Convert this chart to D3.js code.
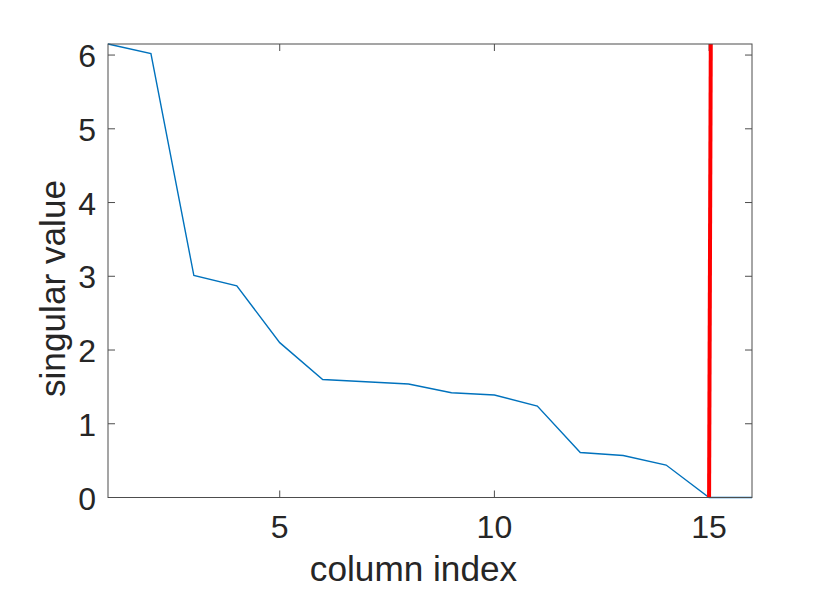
<!DOCTYPE html>
<html><head><meta charset="utf-8">
<script src="https://cdn.jsdelivr.net/npm/d3@7"></script>
<style>body{margin:0;background:#fff}svg{display:block}</style>
</head><body>
<script>
const columnIndex = [1,2,3,4,5,6,7,8,9,10,11,12,13,14,15,16];
const singularValues = [6.15,6.02,3.01,2.87,2.10,1.60,1.57,1.54,1.42,1.39,1.24,0.61,0.57,0.44,0,0];
const cutoffX = [15, 15.04];
const cutoffY = [0, 6.15];
const xTicks = [5,10,15];
const yTicks = [0,1,2,3,4,5,6];

const W=830,H=591;
const L=108,R=752,T=44,B=497.5;
const svg=d3.select("body").append("svg").attr("width",W).attr("height",H);
const x=d3.scaleLinear().domain([1,16]).range([L,R]);
const y=d3.scaleLinear().domain([0,6.15]).range([B,T]);
const font="Liberation Sans, Arial, Helvetica, sans-serif";
const axCol="#4d4d4d", txtCol="#262626";

const g=svg.append("g");
const tickLen=7;
xTicks.forEach(t=>{
  g.append("line").attr("x1",x(t)).attr("x2",x(t)).attr("y1",B).attr("y2",B-tickLen).attr("stroke",axCol);
  g.append("line").attr("x1",x(t)).attr("x2",x(t)).attr("y1",T).attr("y2",T+tickLen).attr("stroke",axCol);
  g.append("text").attr("x",x(t)).attr("y",B+40.5).attr("text-anchor","middle")
   .attr("font-family",font).attr("font-size",32).attr("fill",txtCol).text(t);
});
yTicks.forEach(t=>{
  g.append("line").attr("x1",L).attr("x2",L+tickLen).attr("y1",y(t)).attr("y2",y(t)).attr("stroke",axCol);
  g.append("line").attr("x1",R).attr("x2",R-tickLen).attr("y1",y(t)).attr("y2",y(t)).attr("stroke",axCol);
  g.append("text").attr("x",L-12).attr("y",y(t)+12).attr("text-anchor","end")
   .attr("font-family",font).attr("font-size",32).attr("fill",txtCol).text(t);
});

const line=d3.line().x((d,i)=>x(columnIndex[i])).y(d=>y(d));
svg.append("path").datum(singularValues).attr("d",line).attr("fill","none")
  .attr("stroke","#0072BD").attr("stroke-width",1.4);

const cut=d3.line().x((d,i)=>x(cutoffX[i])).y(d=>y(d));
svg.append("path").datum(cutoffY).attr("d",cut).attr("fill","none")
  .attr("stroke","#FF0000").attr("stroke-width",4);

svg.append("rect").attr("x",L).attr("y",T).attr("width",R-L).attr("height",B-T)
  .attr("fill","none").attr("stroke",axCol).attr("stroke-width",1);

svg.append("text").attr("x",413.5).attr("y",581).attr("text-anchor","middle")
  .attr("font-family",font).attr("font-size",35.2).attr("fill",txtCol).text("column index");
svg.append("text").attr("transform","translate(65,288.5) rotate(-90)").attr("text-anchor","middle")
  .attr("font-family",font).attr("font-size",35.2).attr("fill",txtCol).text("singular value");
</script>
</body></html>
